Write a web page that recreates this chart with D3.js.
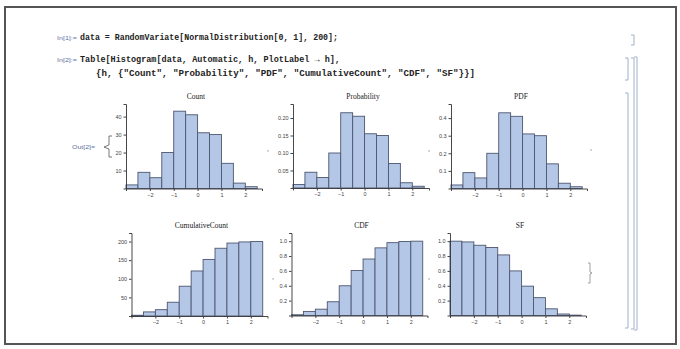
<!DOCTYPE html>
<html>
<head>
<meta charset="utf-8">
<script src="https://cdn.jsdelivr.net/npm/d3@7"></script>
<style>
  html, body { margin: 0; padding: 0; background: #fff; }
  svg { display: block; }
</style>
</head>
<body>
<svg id="nb" width="680" height="349"></svg>
<script>
// ---- data -------------------------------------------------------------
const binStarts = [-3, -2.5, -2, -1.5, -1, -0.5, 0, 0.5, 1, 1.5, 2];
const binWidth = 0.5;

const countValues       = [2, 9, 6, 20, 43, 41, 31, 30, 14, 3, 1];
const probabilityValues = [0.01, 0.045, 0.03, 0.1, 0.215, 0.205, 0.155, 0.15, 0.07, 0.015, 0.005];
const pdfValues         = [0.02, 0.09, 0.06, 0.2, 0.43, 0.41, 0.31, 0.3, 0.14, 0.03, 0.01];
const cumCountValues    = [2, 11, 17, 37, 80, 121, 152, 182, 196, 199, 200];
const cdfValues         = [0.01, 0.055, 0.085, 0.185, 0.4, 0.605, 0.76, 0.91, 0.98, 0.995, 1.0];
const sfValues          = [1.0, 0.99, 0.945, 0.915, 0.815, 0.6, 0.395, 0.24, 0.09, 0.02, 0.005];

const plotLabels = ["Count", "Probability", "PDF", "CumulativeCount", "CDF", "SF"];
const xTickValues = [-2, -1, 0, 1, 2];
const countTicks = [10, 20, 30, 40];
const probabilityTicks = [0.05, 0.10, 0.15, 0.20];
const pdfTicks = [0.1, 0.2, 0.3, 0.4];
const cumCountTicks = [50, 100, 150, 200];
const unitTicks = [0.2, 0.4, 0.6, 0.8, 1.0];

const inputLabels = ["In[1]:=", "In[2]:="];
const outputLabel = "Out[2]=";
const inputLines = [
  "data = RandomVariate[NormalDistribution[0, 1], 200];",
  "Table[Histogram[data, Automatic, h, PlotLabel \u2192 h],",
  "{h, {\"Count\", \"Probability\", \"PDF\", \"CumulativeCount\", \"CDF\", \"SF\"}}]"
];

// ---- drawing ----------------------------------------------------------
const svg = d3.select("#nb");

// window frame
svg.append("rect")
  .attr("x", 5).attr("y", 7).attr("width", 671).attr("height", 337)
  .attr("fill", "#fff").attr("stroke", "#555").attr("stroke-width", 2);

// input cells
const codeFont = "'Liberation Mono', 'DejaVu Sans Mono', monospace";
const codeRows = [
  { x: 80, y: 39.5, len: 258 },
  { x: 80, y: 62,   len: 260 },
  { x: 96, y: 76,   len: 379 }
];
codeRows.forEach((r, i) => {
  svg.append("text")
    .attr("x", r.x).attr("y", r.y)
    .attr("font-family", codeFont).attr("font-weight", "bold")
    .attr("font-size", 8.6).attr("fill", "#222")
    .attr("textLength", r.len).attr("lengthAdjust", "spacingAndGlyphs")
    .text(inputLines[i]);
});
[{ y: 39.5 }, { y: 62 }].forEach((r, i) => {
  svg.append("text")
    .attr("x", 57).attr("y", r.y)
    .attr("font-family", "'Liberation Sans', Arial, sans-serif")
    .attr("font-size", 6).attr("fill", "#5f6f9f")
    .attr("textLength", 20).attr("lengthAdjust", "spacingAndGlyphs")
    .text(inputLabels[i]);
});
svg.append("text")
  .attr("x", 72).attr("y", 149)
  .attr("font-family", "'Liberation Sans', Arial, sans-serif")
  .attr("font-size", 6).attr("fill", "#5f6f9f")
  .attr("textLength", 23).attr("lengthAdjust", "spacingAndGlyphs")
  .text(outputLabel);

// list brace and separators of the output
svg.append("path")
  .attr("d", "M112,136 L109,136 L109,145 L104,147 L109,149 L109,157 L112,157")
  .attr("fill", "none").attr("stroke", "#555").attr("stroke-width", 0.8);
[[267, 151], [428, 151], [590, 150], [272, 279], [428, 279]].forEach(([x, y]) => {
  svg.append("text").attr("x", x).attr("y", y)
    .attr("font-family", "'Liberation Sans', Arial, sans-serif")
    .attr("font-size", 7).attr("fill", "#444").text(",");
});
svg.append("path")
  .attr("d", "M588,263 L590,263 L590,272 L592,273 L590,274 L590,283 L588,283")
  .attr("fill", "none").attr("stroke", "#888").attr("stroke-width", 0.8);

// histograms
const panels = [
  { values: countValues,       ticks: countTicks,       yMax: 47,   fmt: d3.format("d"),   x0: 126,   base: 188.5, h: 84.5 },
  { values: probabilityValues, ticks: probabilityTicks, yMax: 0.24, fmt: d3.format(".2f"), x0: 293,   base: 188,   h: 84 },
  { values: pdfValues,         ticks: pdfTicks,         yMax: 0.48, fmt: d3.format(".1f"), x0: 451,   base: 188.5, h: 84.5 },
  { values: cumCountValues,    ticks: cumCountTicks,    yMax: 223,  fmt: d3.format("d"),   x0: 131.5, base: 316,   h: 83 },
  { values: cdfValues,         ticks: unitTicks,        yMax: 1.11, fmt: d3.format(".1f"), x0: 291.5, base: 315.5, h: 82.5 },
  { values: sfValues,          ticks: unitTicks,        yMax: 1.11, fmt: d3.format(".1f"), x0: 450,   base: 315.5, h: 82.5 }
];

const tickFont = "'Liberation Sans', Arial, sans-serif";

panels.forEach((p, i) => {
  const g = svg.append("g");
  const x = d3.scaleLinear().domain([-3, 2.7]).range([p.x0, p.x0 + 136]);
  const y = d3.scaleLinear().domain([0, p.yMax]).range([p.base, p.base - p.h]);

  const bins = binStarts.map((b, k) => ({ x0: b, x1: b + binWidth, v: p.values[k] }));
  g.selectAll("rect.bar").data(bins).join("rect")
    .attr("class", "bar")
    .attr("x", d => x(d.x0))
    .attr("width", d => x(d.x1) - x(d.x0))
    .attr("y", d => y(d.v))
    .attr("height", d => y(0) - y(d.v))
    .attr("fill", "#b4c7e7")
    .attr("stroke", "#4c5670")
    .attr("stroke-width", 0.9);

  // x axis
  const xAxis = d3.axisBottom(x).tickValues(xTickValues).tickSize(2.5).tickFormat(d3.format("d"));
  const gx = g.append("g").attr("transform", `translate(0,${p.base})`).call(xAxis);
  gx.select(".domain").attr("stroke", "#333").attr("stroke-width", 0.9);
  gx.selectAll(".tick line").attr("stroke", "#444");
  gx.selectAll(".tick text").attr("font-family", tickFont).attr("font-size", 5.5)
    .attr("fill", "#444").attr("dy", "0.5em");

  // y axis
  const yAxis = d3.axisLeft(y).tickValues(p.ticks).tickSize(2.5).tickFormat(p.fmt);
  const gy = g.append("g").attr("transform", `translate(${p.x0},0)`).call(yAxis);
  gy.select(".domain").attr("stroke", "#333").attr("stroke-width", 0.9);
  gy.selectAll(".tick line").attr("stroke", "#444");
  gy.selectAll(".tick text").attr("font-family", tickFont).attr("font-size", 5.5)
    .attr("fill", "#444").attr("dx", "0.2em");

  // plot label
  g.append("text")
    .attr("x", p.x0 + 70).attr("y", p.base - p.h - 5)
    .attr("text-anchor", "middle")
    .attr("font-family", "'Liberation Serif', 'Times New Roman', serif")
    .attr("font-size", 7.5).attr("fill", "#222")
    .text(plotLabels[i]);
});

// cell brackets
const bracketColor = "#9fb0cc";
function bracket(xr, y0, y1) {
  svg.append("path")
    .attr("d", `M${xr - 3},${y0} L${xr},${y0} L${xr},${y1} L${xr - 3},${y1}`)
    .attr("fill", "none").attr("stroke", bracketColor).attr("stroke-width", 1);
}
bracket(634, 35, 45);
bracket(628, 58, 80);
bracket(628, 93, 328);
bracket(634, 58, 329);
bracket(637, 57, 330);
</script>
</body>
</html>
